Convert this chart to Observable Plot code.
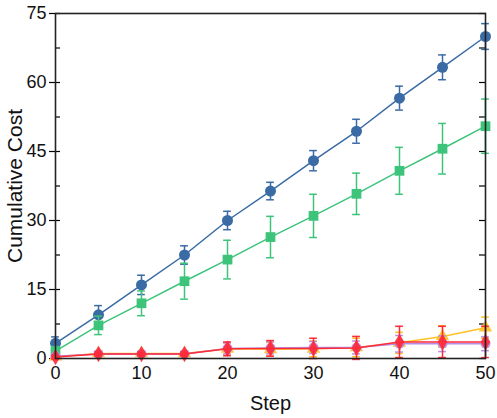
<!DOCTYPE html>
<html>
<head>
<meta charset="utf-8">
<script src="https://cdn.jsdelivr.net/npm/d3@7"></script>
<script src="https://cdn.jsdelivr.net/npm/@observablehq/plot@0.6"></script>
<style>
  html, body { margin: 0; padding: 0; background: #fff; }
  #chart svg { font-family: "Liberation Sans", Arial, sans-serif; }
</style>
</head>
<body>
<div id="chart"></div>
<script>
const steps = [0, 5, 10, 15, 20, 25, 30, 35, 40, 45, 50];
const xTicks = [0, 10, 20, 30, 40, 50];
const yTicks = [0, 15, 30, 45, 60, 75];
const yMinorTicks = [0, 7.5, 15, 22.5, 30, 37.5, 45, 52.5, 60, 67.5, 75];
const xTitle = "Step";
const yTitle = "Cumulative Cost";

const seriesNames = ["A", "B", "C", "D", "E"];
const seriesColors = ["#3a6ba5", "#3dc47a", "#ffc125", "#b48ee6", "#ff2a38"];
const seriesSymbols = ["circle", "square", "triangle", "circle", "diamond"];

const blueMean  = [3.3, 9.5, 16.0, 22.5, 30.0, 36.4, 43.0, 49.4, 56.6, 63.3, 70.0];
const blueErr   = [1.4, 2.0, 2.1, 2.0, 2.0, 1.9, 2.2, 2.6, 2.6, 2.7, 2.8];
const greenMean = [1.6, 7.2, 12.0, 16.8, 21.5, 26.4, 31.0, 35.8, 40.8, 45.6, 50.5];
const greenErr  = [1.0, 2.0, 2.7, 3.9, 4.2, 4.5, 4.7, 4.5, 5.1, 5.5, 5.9];
const yellowMean = [0.4, 1.1, 1.1, 1.1, 2.1, 2.0, 2.1, 2.4, 3.4, 4.8, 6.7];
const yellowErr  = [0.3, 0.3, 0.3, 0.3, 1.3, 1.5, 1.7, 2.0, 2.3, 2.3, 2.3];
const purpleMean = [0.5, 1.0, 1.0, 1.0, 2.2, 2.3, 2.4, 2.4, 3.2, 3.2, 3.2];
const purpleErr  = [0.3, 0.3, 0.3, 0.3, 1.2, 1.3, 1.3, 1.4, 1.8, 1.7, 1.5];
const redMean = [0.3, 1.0, 1.0, 1.0, 2.1, 2.2, 2.2, 2.3, 3.6, 3.6, 3.6];
const redErr  = [0.4, 0.4, 0.4, 0.4, 1.5, 1.7, 2.2, 2.5, 3.4, 3.4, 3.4];

const means = [blueMean, greenMean, yellowMean, purpleMean, redMean];
const errs = [blueErr, greenErr, yellowErr, purpleErr, redErr];

const capHalf = 0.45;

const marks = [];
seriesNames.forEach((name, i) => {
  const data = steps.map((s, j) => ({step: s, mean: means[i][j], err: errs[i][j]}));
  const c = seriesColors[i];
  marks.push(Plot.line(data, {x: "step", y: "mean", stroke: c, strokeWidth: 1.5}));
  marks.push(Plot.ruleX(data, {x: "step", y1: d => d.mean - d.err, y2: d => d.mean + d.err, stroke: c, strokeWidth: 1.5}));
  marks.push(Plot.ruleY(data, {y: d => d.mean + d.err, x1: d => d.step - capHalf, x2: d => d.step + capHalf, stroke: c, strokeWidth: 1.5}));
  marks.push(Plot.ruleY(data, {y: d => d.mean - d.err, x1: d => d.step - capHalf, x2: d => d.step + capHalf, stroke: c, strokeWidth: 1.5}));
  marks.push(Plot.dot(data, {x: "step", y: "mean", fill: c, r: i < 2 ? 5.5 : 5, symbol: seriesSymbols[i], fillOpacity: i < 2 ? 1 : 0.9}));
});

const chart = Plot.plot({
  width: 497,
  height: 418,
  marginLeft: 55,
  marginRight: 12,
  marginTop: 13,
  marginBottom: 60,
  style: {fontFamily: "Liberation Sans, Arial, sans-serif", background: "#fff"},
  x: {domain: [0, 50]},
  y: {domain: [0, 75]},
  marks: [
    Plot.axisY({anchor: "left", ticks: yMinorTicks, tickSize: -5, text: null, label: null, strokeWidth: 1.2}),
    Plot.axisY({anchor: "left", ticks: yTicks, tickSize: 6, tickPadding: 3, fontSize: 18, fill: "#111", label: null, strokeWidth: 1.2}),
    Plot.axisY({anchor: "right", ticks: yMinorTicks, tickSize: -7, text: null, label: null, strokeWidth: 1.2}),
    Plot.axisX({anchor: "bottom", ticks: xTicks, tickSize: 0, tickPadding: 8, fontSize: 18, fill: "#111", label: null}),
    Plot.text([yTitle], {text: d => d, frameAnchor: "left", dx: -40, rotate: -90, fontSize: 21, fill: "#111", textAnchor: "middle"}),
    Plot.text([xTitle], {text: d => d, frameAnchor: "bottom", dy: 51, fontSize: 20, fill: "#111", textAnchor: "middle"}),
    ...marks,
    Plot.frame({stroke: "#222", strokeWidth: 1.6})
  ]
});
document.getElementById("chart").appendChild(chart);
</script>
</body>
</html>
